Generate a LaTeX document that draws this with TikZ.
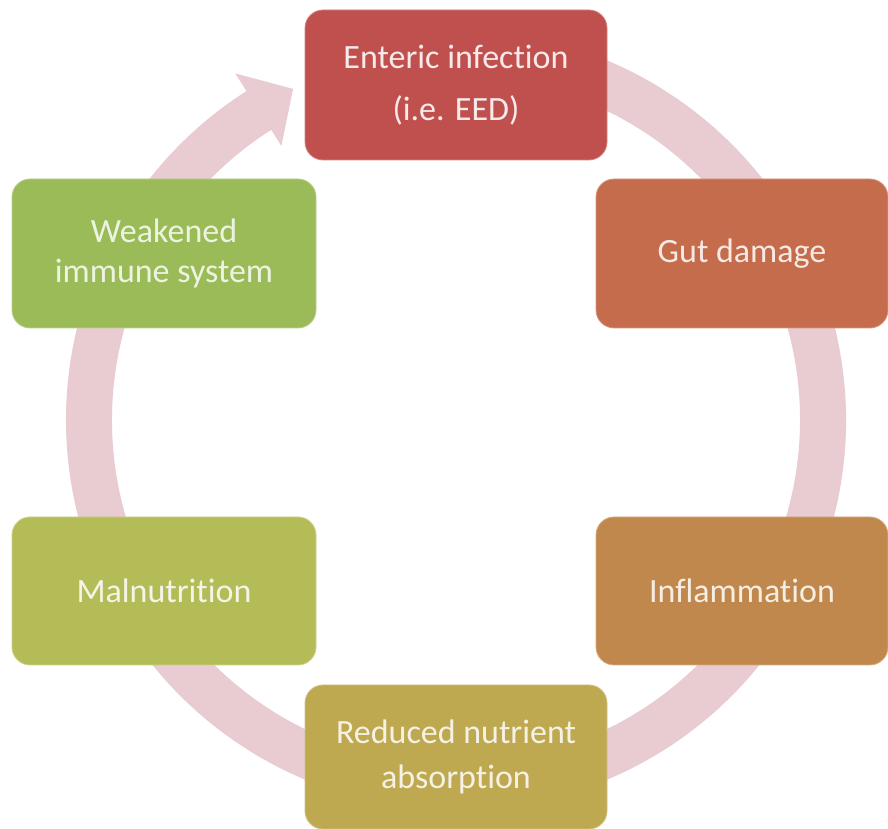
\documentclass[tikz,border=0pt]{standalone}
\usepackage{fontspec}
\setmainfont{Carlito}[Ligatures=NoCommon]
\definecolor{ringc}{RGB}{232,204,209}
\definecolor{cA}{RGB}{192,80,77}
\definecolor{cB}{RGB}{196,108,76}
\definecolor{cC}{RGB}{192,136,76}
\definecolor{cD}{RGB}{190,168,80}
\definecolor{cE}{RGB}{180,188,88}
\definecolor{cF}{RGB}{155,187,89}
\begin{document}
\begin{tikzpicture}[x=1pt,y=1pt,
  box/.style={rounded corners=18pt, minimum width=#1, align=center, inner sep=0pt,
    font=\fontsize{34}{40}\selectfont, text=white!92!yellow},
]
\useasboundingbox (0,0) rectangle (888,829);
\fill[white] (0,0) rectangle (888,829);
% ring with arrowhead
\begin{scope}[shift={(456,409)}]
\fill[ringc] (100:390) arc[start angle=100, end angle=-237.5, radius=390]
  -- (122.5:411) -- (116.2:369) -- (122.5:325)
  -- (122.5:344) arc[start angle=-237.5, end angle=100, radius=344] -- cycle;
\end{scope}
\node[box=302pt, minimum height=150pt, fill=cA, draw=cA!70!white, line width=0.8pt,
  text=white!88!cA, font=\fontsize{34}{52}\selectfont] (ent) at (456,744) {Enteric infection\\(i.e. EED)};
\node[box=292pt, minimum height=149pt, fill=cB, draw=cB!70!white, line width=0.8pt,
  text=white!85!cB] (gut) at (742,575.5) {Gut damage};
\node[box=292pt, minimum height=148pt, fill=cC, draw=cC!70!white, line width=0.8pt,
  text=white!85!cC] (inf) at (742,238) {Inflammation};
\node[box=302pt, minimum height=144pt, fill=cD, draw=cD!70!white, line width=0.8pt,
  text=white!85!cD, font=\fontsize{34}{45}\selectfont] (red) at (456,72) {Reduced nutrient\\absorption};
\node[box=304pt, minimum height=148pt, fill=cE, draw=cE!70!white, line width=0.8pt,
  text=white!85!cE] (mal) at (164,238) {Malnutrition};
\node[box=304pt, minimum height=149pt, fill=cF, draw=cF!70!white, line width=0.8pt,
  text=white!82!cF] (weak) at (164,575.5) {Weakened\\immune system};
\end{tikzpicture}
\end{document}
